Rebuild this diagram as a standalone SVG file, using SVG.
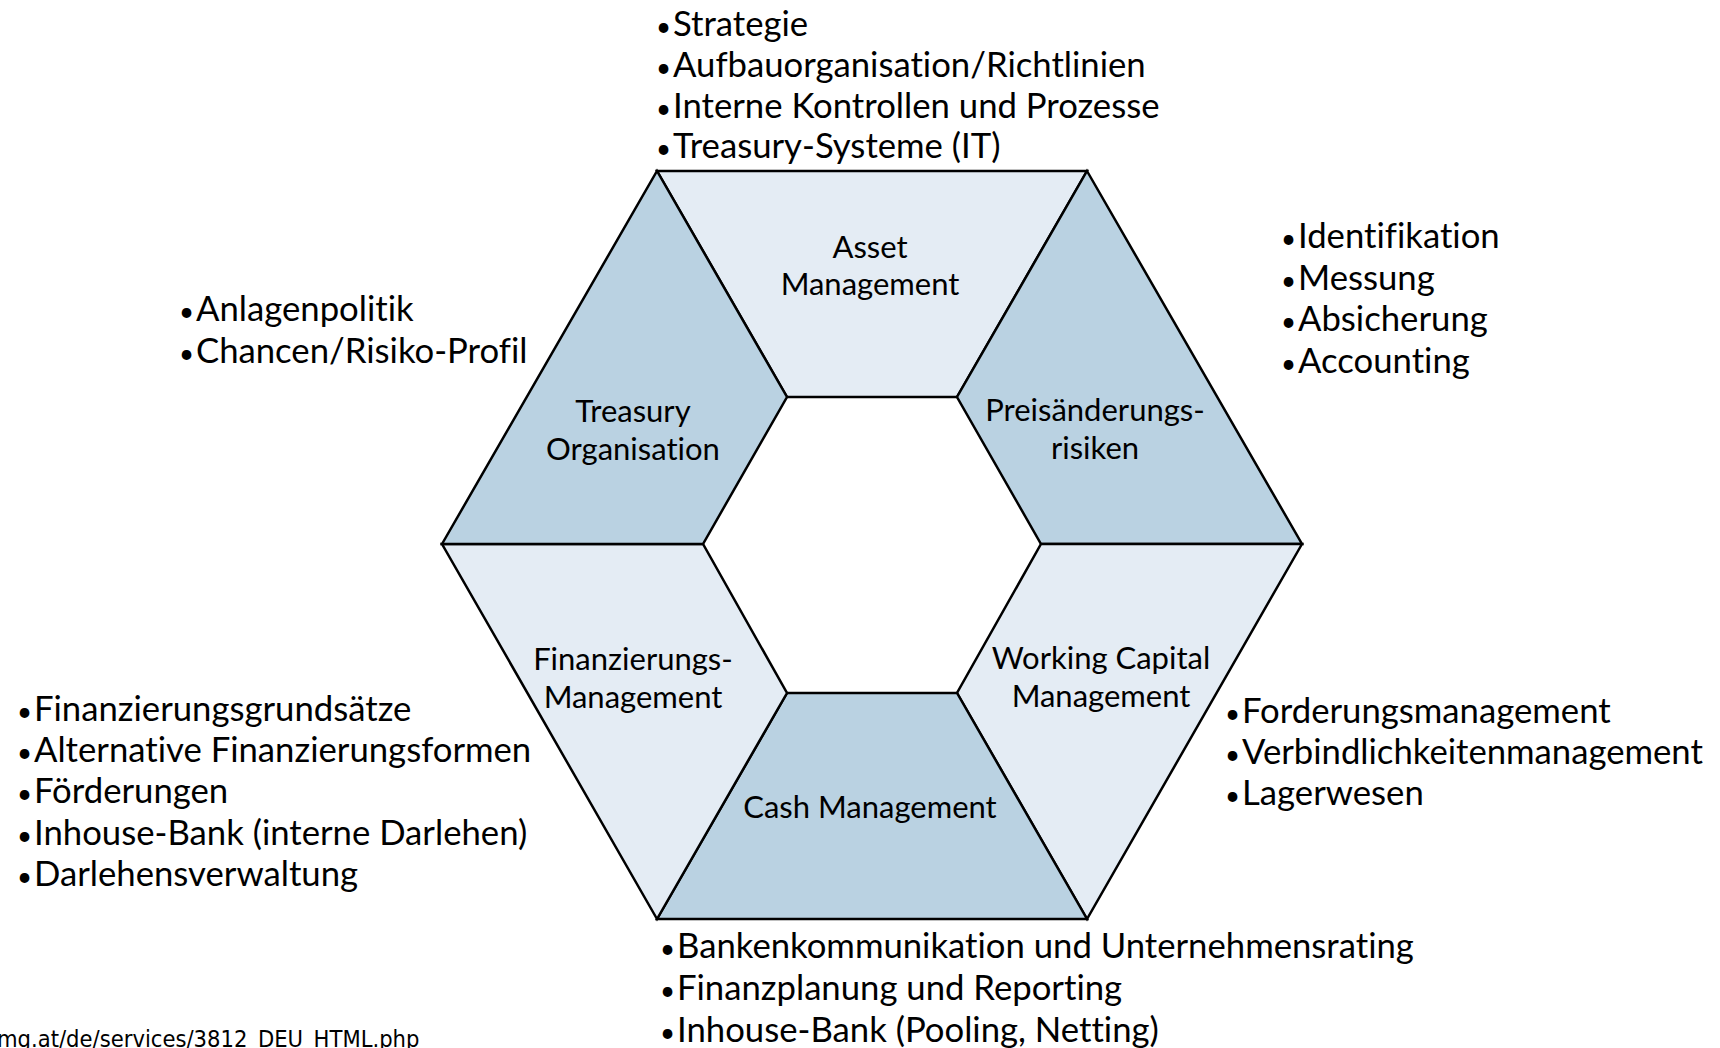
<svg xmlns="http://www.w3.org/2000/svg" width="1720" height="1048" viewBox="0 0 1720 1048">
<style>
.seg{stroke:#000;stroke-width:2.5;stroke-linejoin:miter}
.light{fill:#E4ECF4}
.dark{fill:#BAD2E2}
.lbl{font-family:Lato,"Open Sans","DejaVu Sans",sans-serif;font-size:31px;fill:#000;text-anchor:middle;font-variant-ligatures:none}
.lst{font-family:Lato,"Open Sans","DejaVu Sans",sans-serif;font-size:34.7px;fill:#000;font-variant-ligatures:none}
.b{font-size:26px}
.url{font-family:"DejaVu Sans Condensed","DejaVu Sans",sans-serif;font-size:23.5px;fill:#000}
</style>
<rect width="1720" height="1048" fill="#fff"/>
<g id="asset-management">
<polygon class="seg light" points="657,171 1087,171 957,397 787,397"/>
<text class="lbl"><tspan x="870" y="258">Asset</tspan><tspan x="870" y="295">Management</tspan></text>
</g>
<g id="preisaenderungsrisiken">
<polygon class="seg dark" points="1087,171 1302,544 1041,544 957,397"/>
<text class="lbl"><tspan x="1095" y="421">Preisänderungs-</tspan><tspan x="1095" y="459">risiken</tspan></text>
</g>
<g id="working-capital-management">
<polygon class="seg light" points="1302,544 1087,919 957,693 1041,544"/>
<text class="lbl"><tspan x="1101" y="669">Working Capital</tspan><tspan x="1101" y="707">Management</tspan></text>
</g>
<g id="cash-management">
<polygon class="seg dark" points="1087,919 657,919 787,693 957,693"/>
<text class="lbl" x="870" y="818">Cash Management</text>
</g>
<g id="finanzierungs-management">
<polygon class="seg light" points="657,919 442,544 703,544 787,693"/>
<text class="lbl"><tspan x="633" y="670">Finanzierungs-</tspan><tspan x="633" y="708">Management</tspan></text>
</g>
<g id="treasury-organisation">
<polygon class="seg dark" points="442,544 657,171 787,397 703,544"/>
<text class="lbl"><tspan x="633" y="422">Treasury</tspan><tspan x="633" y="460">Organisation</tspan></text>
</g>
<g id="list-top" class="lst">
<text><tspan class="b" x="656" y="36">•</tspan><tspan x="673">Strategie</tspan></text>
<text><tspan class="b" x="656" y="77">•</tspan><tspan x="673">Aufbauorganisation/Richtlinien</tspan></text>
<text><tspan class="b" x="656" y="118">•</tspan><tspan x="673">Interne Kontrollen und Prozesse</tspan></text>
<text><tspan class="b" x="656" y="158">•</tspan><tspan x="673">Treasury-Systeme (IT)</tspan></text>
</g>
<g id="list-right-top" class="lst">
<text><tspan class="b" x="1281" y="248">•</tspan><tspan x="1298">Identifikation</tspan></text>
<text><tspan class="b" x="1281" y="290">•</tspan><tspan x="1298">Messung</tspan></text>
<text><tspan class="b" x="1281" y="331">•</tspan><tspan x="1298">Absicherung</tspan></text>
<text><tspan class="b" x="1281" y="373">•</tspan><tspan x="1298">Accounting</tspan></text>
</g>
<g id="list-left-top" class="lst">
<text><tspan class="b" x="179" y="321">•</tspan><tspan x="196">Anlagenpolitik</tspan></text>
<text><tspan class="b" x="179" y="363">•</tspan><tspan x="196">Chancen/Risiko-Profil</tspan></text>
</g>
<g id="list-left-bottom" class="lst">
<text><tspan class="b" x="17" y="721">•</tspan><tspan x="34">Finanzierungsgrundsätze</tspan></text>
<text><tspan class="b" x="17" y="762">•</tspan><tspan x="34">Alternative Finanzierungsformen</tspan></text>
<text><tspan class="b" x="17" y="803">•</tspan><tspan x="34">Förderungen</tspan></text>
<text><tspan class="b" x="17" y="845">•</tspan><tspan x="34">Inhouse-Bank (interne Darlehen)</tspan></text>
<text><tspan class="b" x="17" y="886">•</tspan><tspan x="34">Darlehensverwaltung</tspan></text>
</g>
<g id="list-right-bottom" class="lst">
<text><tspan class="b" x="1225" y="723">•</tspan><tspan x="1242">Forderungsmanagement</tspan></text>
<text><tspan class="b" x="1225" y="764">•</tspan><tspan x="1242">Verbindlichkeitenmanagement</tspan></text>
<text><tspan class="b" x="1225" y="805">•</tspan><tspan x="1242">Lagerwesen</tspan></text>
</g>
<g id="list-bottom" class="lst">
<text><tspan class="b" x="660" y="958">•</tspan><tspan x="677">Bankenkommunikation und Unternehmensrating</tspan></text>
<text><tspan class="b" x="660" y="1000">•</tspan><tspan x="677">Finanzplanung und Reporting</tspan></text>
<text><tspan class="b" x="660" y="1042">•</tspan><tspan x="677">Inhouse-Bank (Pooling, Netting)</tspan></text>
</g>
<text class="url" x="-3" y="1047">mg.at/de/services/3812_DEU_HTML.php</text>
</svg>
